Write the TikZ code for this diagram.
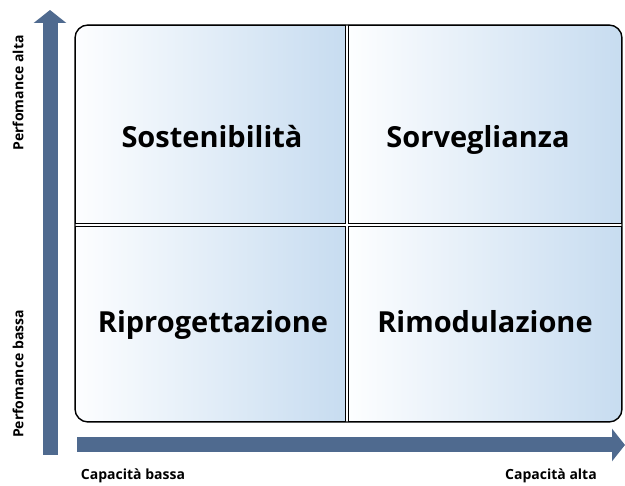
\documentclass[tikz,border=0pt]{standalone}
\usepackage{fontspec}
\setmainfont{Open Sans}
\usetikzlibrary{arrows.meta}
\definecolor{arrowblue}{RGB}{79,106,143}
\definecolor{qleft}{RGB}{253,254,255}
\definecolor{qright}{RGB}{199,220,240}
\tikzset{
  quad/.style={left color=qleft, right color=qright, shading angle=90},
  quadborder/.style={draw=black, line width=1.4pt},
  title/.style={font=\bfseries\fontsize{29}{33}\selectfont, inner sep=0pt, anchor=base},
  axislabel/.style={font=\bfseries\fontsize{14}{16}\selectfont, inner sep=0pt},
  bigarrow/.style={draw=arrowblue, line width=15pt, -{Triangle[width=32pt,length=13pt]}}
}
\begin{document}
\begin{tikzpicture}[x=1pt,y=1pt]
\useasboundingbox (0,0) rectangle (625,486);
% quadrants clipped to the outer rounded box
\begin{scope}
  \clip[rounded corners=13pt] (75,64) rectangle (622,461);
  \shade[quad] (75,262.4) rectangle (345.6,461);
  \shade[quad] (348.4,262.4) rectangle (622,461);
  \shade[quad] (75,64) rectangle (345.6,259.6);
  \shade[quad] (348.4,64) rectangle (622,259.6);
  \draw[quadborder] (75,262.4) rectangle (345.6,461);
  \draw[quadborder] (348.4,262.4) rectangle (622,461);
  \draw[quadborder] (75,64) rectangle (345.6,259.6);
  \draw[quadborder] (348.4,64) rectangle (622,259.6);
\end{scope}
\draw[quadborder, rounded corners=13pt] (75,64) rectangle (622,461);
% titles
\node[title] (q1) at (212,338) {Sostenibilità};
\node[title] (q2) at (478,338) {Sorveglianza};
\node[title] (q3) at (213,153) {Riprogettazione};
\node[title] (q4) at (485,153) {Rimodulazione};
% axes
\coordinate (vstart) at (50,31);
\coordinate (vend) at (50,476);
\coordinate (hstart) at (77,41);
\coordinate (hend) at (625,41);
\draw[bigarrow] (vstart) -- (vend);
\draw[bigarrow] (hstart) -- (hend);
% axis labels
\node[axislabel, rotate=90] (pa) at (18,393) {Perfomance alta};
\node[axislabel, rotate=90] (pb) at (18,112) {Perfomance bassa};
\node[axislabel] (cb) at (133,10) {Capacità bassa};
\node[axislabel] (ca) at (551,10) {Capacità alta};
\end{tikzpicture}
\end{document}
